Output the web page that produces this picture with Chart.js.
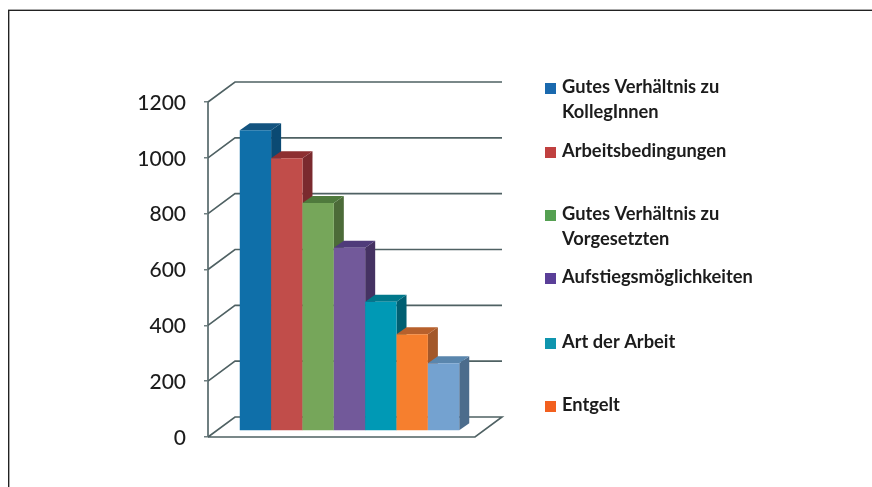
<!DOCTYPE html>
<html>
<head>
<meta charset="utf-8">
<script src="https://cdn.jsdelivr.net/npm/chart.js@4/dist/chart.umd.min.js"></script>
<style>
  html, body { margin: 0; background: #fff; overflow: hidden; }
  #frame { position: absolute; left: 8px; top: 10px; right: -5px; bottom: -5px; border: 1px solid #222; box-shadow: inset 1px 0 0 #aaa, 0 -1px 0 #aaa; }
  #wrap { position: absolute; left: 0; top: 0; width: 872px; height: 487px; filter: blur(0.4px); }
</style>
</head>
<body>
<div id="frame"></div>
<div id="wrap"><canvas id="chart" width="872" height="487"></canvas></div>
<script>
// values
const categories = [""];
const series = [1077, 977, 817, 656, 463, 347, 243];
const legendLabels = [
  ["Gutes Verhältnis zu", "KollegInnen"],
  ["Arbeitsbedingungen"],
  ["Gutes Verhältnis zu", "Vorgesetzten"],
  ["Aufstiegsmöglichkeiten"],
  ["Art der Arbeit"],
  ["Entgelt"]
];
const yTicks = [0, 200, 400, 600, 800, 1000, 1200];

const frontColors = ["#0f6fa9", "#c14d4a", "#76a65a", "#72599a", "#0099b5", "#f67f2e", "#74a2d0"];
const sideColors = ["#0b4a73", "#7a2a2e", "#4c6b38", "#453262", "#005f72", "#a3582a", "#4c6c8c"];
const topColors = ["#13537f", "#8d2f31", "#4f7a3d", "#4f3b7a", "#00788b", "#b7602c", "#5a86ad"];
const swatchColors = ["#1a69ae", "#c0403f", "#55a052", "#5a3f98", "#0f95ae", "#f2601f"];

const wall = { x: 27, y: 20 };       // depth of the floor and side wall
const barShift = { x: 8, y: 6 };     // bars stand a little behind the front edge
const barDepth = { x: 10, y: 7 };

const legendX = 545;
const legendBaselines = [[93, 118], [157], [220, 245], [283], [348], [411]];

function poly(ctx, color, pts) {
  ctx.fillStyle = color;
  ctx.beginPath();
  pts.forEach((p, i) => i ? ctx.lineTo(p[0], p[1]) : ctx.moveTo(p[0], p[1]));
  ctx.closePath();
  ctx.fill();
}

function drawWall(chart) {
  const { ctx, chartArea, scales } = chart;
  const l = chartArea.left, r = chartArea.right;
  ctx.save();
  ctx.strokeStyle = "#4f6163";
  ctx.lineWidth = 1.6;
  yTicks.forEach(v => {
    const y = scales.y.getPixelForValue(v);
    ctx.beginPath();
    ctx.moveTo(l, y);
    ctx.lineTo(l + wall.x, y - wall.y);
    ctx.lineTo(r + wall.x, y - wall.y);
    if (v === 0) {
      ctx.lineTo(r, y);
      ctx.lineTo(l, y);
    }
    ctx.stroke();
  });
  ctx.restore();
}

function drawLegend(ctx) {
  ctx.save();
  ctx.font = "bold 18.3px Lato";
  ctx.textAlign = "left";
  ctx.textBaseline = "alphabetic";
  legendLabels.forEach((lines, i) => {
    ctx.fillStyle = swatchColors[i];
    ctx.fillRect(legendX, legendBaselines[i][0] - 10, 11, 11);
    ctx.fillStyle = "#1c1c1c";
    lines.forEach((t, k) => ctx.fillText(t, legendX + 17, legendBaselines[i][k]));
  });
  ctx.restore();
}

// Chart.js paints the last dataset first, here the first bar has to go down first
// so that the next bar covers its side face. So the plugin runs the paint loop itself.
const bars3d = {
  id: "bars3d",
  beforeDatasetsDraw(chart) {
    const ctx = chart.ctx;
    drawWall(chart);
    ctx.save();
    ctx.translate(barShift.x, -barShift.y);
    chart.getSortedVisibleDatasetMetas().forEach((meta, i) => {
      const bar = meta.data[0];
      const left = bar.x - bar.width / 2, right = bar.x + bar.width / 2;
      const dx = barDepth.x, dy = barDepth.y;
      poly(ctx, sideColors[i], [[right, bar.y], [right + dx, bar.y - dy], [right + dx, bar.base - dy], [right, bar.base]]);
      poly(ctx, topColors[i], [[left, bar.y], [left + dx, bar.y - dy], [right + dx, bar.y - dy], [right, bar.y]]);
      meta.controller.draw();
    });
    ctx.restore();
    drawLegend(ctx);
    return false;
  }
};

new Chart(document.getElementById("chart"), {
  type: "bar",
  data: {
    labels: categories,
    datasets: series.map((v, i) => ({
      data: [v],
      backgroundColor: frontColors[i]
    }))
  },
  options: {
    responsive: false,
    animation: false,
    categoryPercentage: 0.822,
    barPercentage: 1,
    layout: { padding: { left: 0, top: 102, right: 397, bottom: 50 } },
    plugins: { legend: { display: false }, tooltip: { enabled: false } },
    scales: {
      x: { display: false },
      y: {
        min: 0,
        max: 1200,
        afterFit(scale) { scale.width = 208; },
        afterBuildTicks(scale) { scale.ticks = yTicks.map(v => ({ value: v })); },
        border: { color: "#6f7f81", width: 2 },
        grid: { drawOnChartArea: false, color: "#6f7f81", lineWidth: 1.5, tickLength: 4 },
        ticks: {
          padding: 18,
          labelOffset: 1,
          color: "#1c1c1c",
          font: { family: "Lato", size: 21, weight: "500" },
          callback: v => String(v)
        }
      }
    }
  },
  plugins: [bars3d]
});
</script>
</body>
</html>
